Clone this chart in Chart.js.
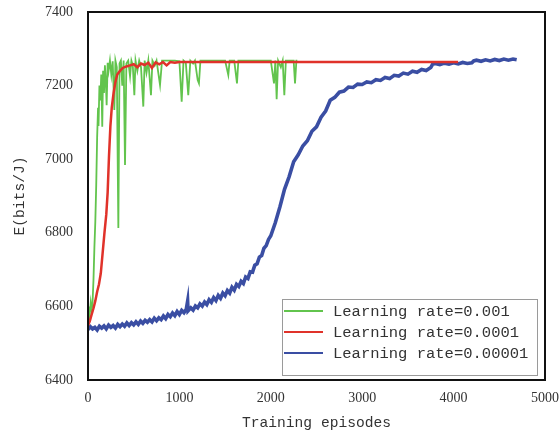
<!DOCTYPE html>
<html>
<head>
<meta charset="utf-8">
<script src="https://cdn.jsdelivr.net/npm/chart.js@4.4.0/dist/chart.umd.min.js"></script>
<style>
html,body{margin:0;padding:0;background:#fff;}
</style>
</head>
<body>
<canvas id="myChart" width="560" height="435"></canvas>
<script>
const seriesNames = ["Learning rate=0.001", "Learning rate=0.0001", "Learning rate=0.00001"];
const seriesColors = ["#62c44d", "#e0322a", "#3a4ea3"];
const xTicks = [0, 1000, 2000, 3000, 4000, 5000];
const yTicks = [6400, 6600, 6800, 7000, 7200, 7400];

// lr = 0.001
const greenEp = [0,10,20,30,40,50,60,70,80,90,100,110,115,125,135,145,156,165,175,185,195,204,215,225,240,255,270,288,300,315,332,345,360,375,390,405,420,440,460,475,490,507,520,540,560,580,605,620,640,660,689,705,730,750,788,810,850,900,950,1000,1025,1045,1070,1097,1120,1150,1170,1200,1214,1230,1300,1400,1500,1535,1550,1600,1630,1645,1700,1800,1900,2000,2035,2050,2064,2080,2110,2130,2148,2165,2200,2250,2265,2280,2290];
const greenVal = [6565,6600,6580,6610,6590,6612,6672,6760,6830,6930,7060,7140,7090,7200,7160,7230,7088,7240,7180,7255,7210,7147,7262,7240,7268,7230,7266,7134,7268,7250,6813,7260,7268,7200,7268,6984,7260,7268,7225,7268,7255,7174,7268,7240,7268,7250,7143,7268,7235,7268,7174,7268,7255,7268,7202,7268,7268,7268,7268,7266,7156,7268,7262,7174,7268,7260,7268,7215,7206,7268,7268,7268,7268,7229,7268,7268,7206,7268,7268,7268,7268,7268,7206,7268,7163,7268,7250,7268,7174,7268,7268,7268,7206,7268,7268];

// lr = 0.0001
const redEp = [0,20,40,60,80,100,120,140,160,180,200,215,230,245,260,280,300,320,350,380,420,460,500,540,580,620,660,700,740,780,820,860,900,950,1000,1500,2000,2500,3000,3500,4050];
const redVal = [6548,6560,6578,6595,6615,6640,6660,6690,6745,6800,6850,6910,7010,7090,7140,7180,7210,7230,7240,7248,7252,7255,7258,7250,7260,7256,7262,7248,7263,7258,7264,7255,7264,7262,7264,7264,7264,7264,7264,7264,7264];

// lr = 0.00001
const blueEp = [0,25,50,75,100,125,150,175,200,225,250,275,300,325,350,375,400,425,450,475,500,525,550,575,600,625,650,675,700,725,750,775,800,825,850,875,900,925,950,975,1000,1025,1050,1075,1090,1095,1125,1150,1175,1200,1225,1250,1275,1300,1325,1350,1375,1400,1425,1450,1475,1500,1525,1550,1575,1600,1625,1650,1675,1700,1725,1750,1775,1800,1825,1850,1875,1900,1925,1950,1975,2000,2050,2100,2150,2200,2250,2300,2350,2400,2450,2500,2550,2600,2650,2700,2750,2800,2850,2900,2950,3000,3050,3100,3150,3200,3250,3300,3350,3400,3450,3500,3550,3600,3650,3700,3750,3770,3800,3850,3900,3950,4000,4050,4100,4150,4200,4220,4250,4300,4350,4400,4450,4500,4550,4600,4650,4690];
const blueVal = [6537,6545,6539,6543,6536,6546,6541,6547,6539,6549,6543,6548,6541,6551,6545,6552,6546,6555,6548,6556,6550,6558,6551,6560,6554,6562,6557,6564,6558,6568,6561,6569,6564,6574,6567,6578,6572,6582,6575,6586,6578,6589,6583,6592,6614,6588,6596,6590,6601,6596,6607,6601,6612,6605,6618,6611,6624,6616,6630,6622,6636,6629,6643,6636,6652,6644,6660,6654,6668,6662,6680,6676,6694,6693,6712,6716,6734,6738,6758,6765,6782,6792,6828,6871,6918,6952,6993,7012,7036,7050,7076,7088,7114,7131,7160,7168,7182,7185,7196,7195,7204,7203,7210,7208,7216,7214,7222,7219,7228,7226,7234,7231,7239,7236,7244,7241,7249,7258,7260,7257,7261,7258,7262,7259,7263,7260,7262,7267,7269,7266,7270,7267,7271,7268,7272,7269,7272,7270];

const toXY = (ep, val) => ep.map((e, i) => ({x: e, y: val[i]}));

const frame = {
  id: 'frame',
  afterDatasetsDraw(chart) {
    const {ctx, chartArea: a} = chart;
    ctx.save();
    ctx.strokeStyle = '#111';
    ctx.lineWidth = 2;
    ctx.strokeRect(a.left, a.top, a.right - a.left, a.bottom - a.top);

    // legend box in the lower right corner
    const w = 255, h = 76;
    const left = a.right - 8 - w, top = a.bottom - 5 - h;
    ctx.fillStyle = '#fff';
    ctx.fillRect(left, top, w, h);
    ctx.strokeStyle = '#9a9a9a';
    ctx.lineWidth = 1;
    ctx.strokeRect(left + 0.5, top + 0.5, w, h);
    ctx.font = '15.5px "Liberation Mono"';
    ctx.textBaseline = 'middle';
    ctx.fillStyle = '#333';
    const rows = [12, 33, 54];
    seriesNames.forEach((name, i) => {
      const y = top + rows[i];
      ctx.strokeStyle = seriesColors[i];
      ctx.lineWidth = 2;
      ctx.beginPath();
      ctx.moveTo(left + 2, y);
      ctx.lineTo(left + 41, y);
      ctx.stroke();
      ctx.fillText(name, left + 51, y + 1);
    });
    ctx.restore();
  }
};

new Chart("myChart", {
  type: "line",
  data: {
    datasets: [
      {label: seriesNames[0], data: toXY(greenEp, greenVal), borderColor: seriesColors[0], borderWidth: 1.8, order: 2},
      {label: seriesNames[1], data: toXY(redEp, redVal), borderColor: seriesColors[1], borderWidth: 2.5, order: 0},
      {label: seriesNames[2], data: toXY(blueEp, blueVal), borderColor: seriesColors[2], borderWidth: 3.6, order: 1}
    ]
  },
  options: {
    responsive: false,
    animation: false,
    elements: {point: {radius: 0}, line: {tension: 0}},
    layout: {padding: {left: 0, right: 15, top: 12, bottom: 0}},
    plugins: {legend: {display: false}, tooltip: {enabled: false}},
    scales: {
      x: {
        type: "linear",
        min: 0, max: 5000,
        afterFit: s => { s.height = 55; s.paddingLeft = 0; s.paddingRight = 0; },
        afterBuildTicks: s => { s.ticks = xTicks.map(v => ({value: v})); },
        grid: {display: false, drawTicks: false},
        border: {display: false},
        ticks: {padding: 10, color: '#333', callback: v => String(v), font: {family: '"Liberation Serif"', size: 14}},
        title: {display: true, text: "Training episodes", color: '#333', padding: {top: 0, bottom: 3}, font: {family: '"Liberation Mono"', size: 14.6}}
      },
      y: {
        min: 6400, max: 7400,
        afterFit: s => { s.width = 88; s.paddingTop = 0; s.paddingBottom = 0; },
        afterBuildTicks: s => { s.ticks = yTicks.map(v => ({value: v})); },
        grid: {display: false, drawTicks: false},
        border: {display: false},
        ticks: {padding: 15, color: '#333', callback: v => String(v), font: {family: '"Liberation Serif"', size: 14}},
        title: {display: true, text: "E(bits/J)", color: '#333', padding: {top: 11, bottom: 0}, font: {family: '"Liberation Mono"', size: 14.6}}
      }
    }
  },
  plugins: [frame]
});
</script>
</body>
</html>
